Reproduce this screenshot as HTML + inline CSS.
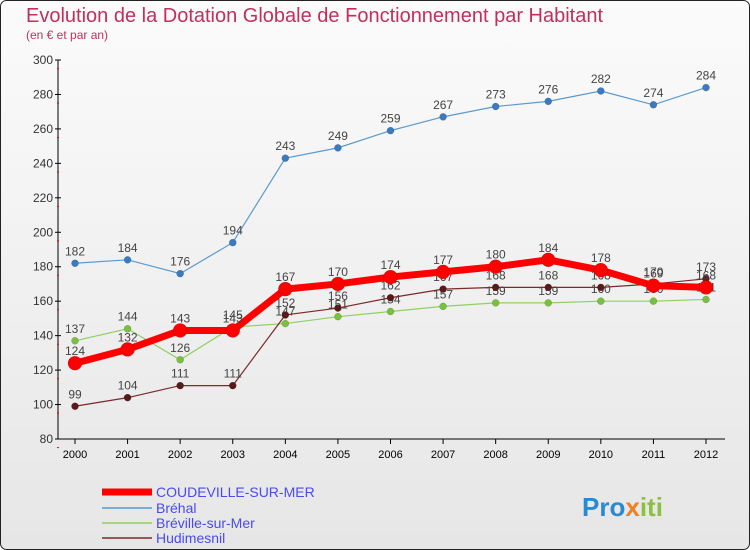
<!DOCTYPE html>
<html><head><meta charset="utf-8"><style>
body{margin:0;width:750px;height:550px;overflow:hidden;font-family:"Liberation Sans",sans-serif}
svg{display:block}
</style></head><body>
<svg id="c" width="750" height="550" xmlns="http://www.w3.org/2000/svg">
<defs><linearGradient id="bg" x1="0" y1="0" x2="0" y2="1"><stop offset="0" stop-color="#fbfbfb"/><stop offset="1" stop-color="#e6e6e6"/></linearGradient></defs>
<rect x="0.5" y="0.5" width="749" height="549" rx="6" fill="url(#bg)" stroke="#222"/>
<text x="26" y="22" font-size="20" fill="#c0305a">Evolution de la Dotation Globale de Fonctionnement par Habitant</text>
<text x="26" y="39" font-size="12" fill="#c0305a">(en € et par an)</text>
<g id="axes"></g><g id="series"></g>
<g>
<line x1="102" y1="492" x2="152" y2="492" stroke="#f00" stroke-width="7"/>
<text x="156" y="497" font-size="14" fill="#4a4af0">COUDEVILLE-SUR-MER</text>
<line x1="102" y1="508" x2="152" y2="508" stroke="#5a9ad0" stroke-width="1.5"/>
<text x="156" y="513" font-size="14" fill="#4a4af0">Bréhal</text>
<line x1="102" y1="523" x2="152" y2="523" stroke="#8fd060" stroke-width="1.5"/>
<text x="156" y="528" font-size="14" fill="#4a4af0">Bréville-sur-Mer</text>
<line x1="102" y1="538" x2="152" y2="538" stroke="#7a2a2a" stroke-width="1.5"/>
<text x="156" y="543" font-size="14" fill="#4a4af0">Hudimesnil</text>
</g>
<text x="582" y="516" font-size="26" font-weight="bold" fill="#2a8ad0">Pro<tspan fill="#f08020">x</tspan><tspan fill="#8cc040">iti</tspan></text>
</svg>
<script>
const years=[2000,2001,2002,2003,2004,2005,2006,2007,2008,2009,2010,2011,2012];
const coudeville=[124,132,143,143,167,170,174,177,180,184,178,169,168];
const brehal=[182,184,176,194,243,249,259,267,273,276,282,274,284];
const breville=[137,144,126,145,147,151,154,157,159,159,160,160,161];
const hudimesnil=[99,104,111,111,152,156,162,167,168,168,168,170,173];
const yTicks=[80,100,120,140,160,180,200,220,240,260,280,300];
const NS="http://www.w3.org/2000/svg";
const x=i=>75+i*(706-75)/12;
const y=v=>439-(v-80)*(439-60)/220;
function mk(t,a,p){const e=document.createElementNS(NS,t);for(const k in a)e.setAttribute(k,a[k]);p.appendChild(e);return e;}
const ax=document.getElementById('axes'),sg=document.getElementById('series');
let yl=mk('line',{x1:58,y1:60,x2:58,y2:439,stroke:'#000'},ax);


let xl=mk('line',{x1:58,y1:439,x2:725,y2:439,stroke:'#000'},ax);


yTicks.forEach(v=>{mk('line',{x1:55,y1:y(v),x2:61,y2:y(v),stroke:'#000'},ax);
mk('line',{x1:57,y1:y(v)+8.6,x2:59,y2:y(v)+8.6,stroke:'#e00'},ax);
const t=mk('text',{x:53,y:y(v)+4,'font-size':12,fill:'#333','text-anchor':'end'},ax);t.textContent=v;

});
years.forEach((yr,i)=>{mk('line',{x1:x(i),y1:439,x2:x(i),y2:444,stroke:'#000'},ax);
const t=mk('text',{x:x(i),y:458,'font-size':11,fill:'#000','text-anchor':'middle'},ax);t.textContent=yr;

});
function series(d,col,w,r,dot,name,below){
const g=mk('g',{},sg);


mk('polyline',{points:d.map((v,i)=>x(i)+','+y(v)).join(' '),fill:'none',stroke:col,'stroke-width':w},g);
d.forEach((v,i)=>{const c=mk('circle',{cx:x(i),cy:y(v),r:r,fill:dot,stroke:'rgba(0,0,0,0.25)','stroke-width':0.5},g);


const t=mk('text',{x:x(i),y:below?y(v)+18:y(v)-8,'font-size':12,fill:'#444','text-anchor':'middle'},g);t.textContent=v;

});}
series(brehal,'#5a9ad0',1.2,3.5,'#3a7ac0','brehal-series');
series(breville,'#8fd060',1.2,3.5,'#7ac040','breville-series');
series(hudimesnil,'#7a2a2a',1.2,3.5,'#5a1a1a','hudimesnil-series');
series(coudeville,'#ff0000',7,7,'#f00','coudeville-series');
</script>
</body></html>
